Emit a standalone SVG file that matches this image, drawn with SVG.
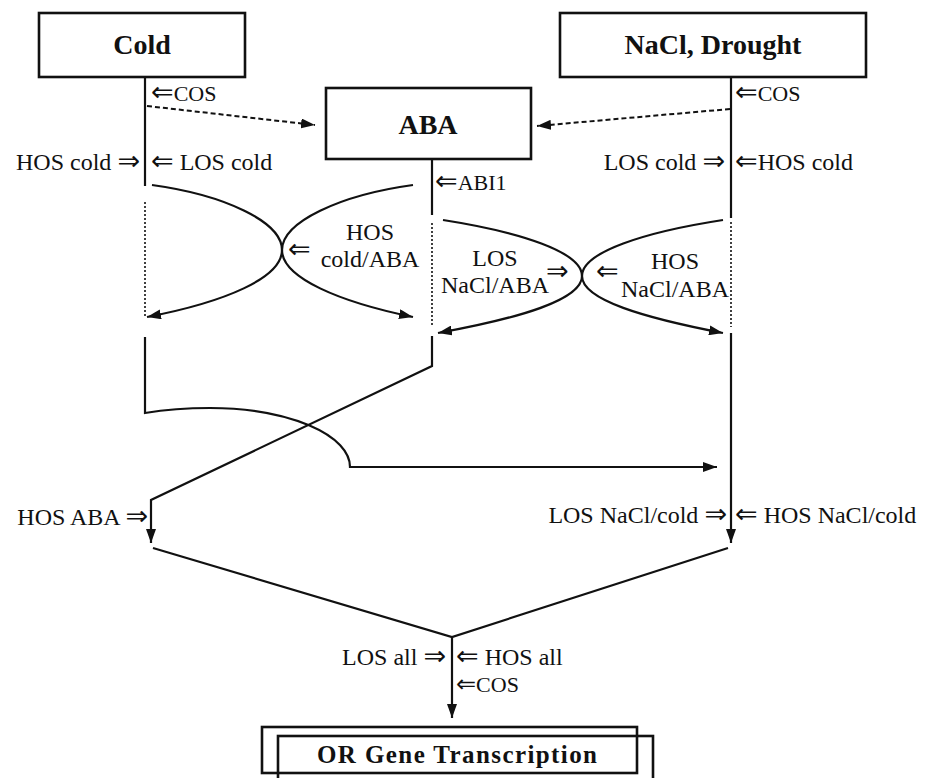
<svg xmlns="http://www.w3.org/2000/svg" width="933" height="778" viewBox="0 0 933 778">
<defs>
<style>
.box{fill:none;stroke:#111;stroke-width:2.6}
.ln{fill:none;stroke:#111;stroke-width:2.2}
.dot{fill:none;stroke:#111;stroke-width:1.6;stroke-dasharray:2 2}
.dash{fill:none;stroke:#111;stroke-width:2;stroke-dasharray:5 3}
.t{font-family:"Liberation Serif","DejaVu Serif",serif;font-size:24px;fill:#111}
.s{font-size:22px}
.b{font-weight:bold;font-size:28px}
.m{text-anchor:middle}
.e{text-anchor:end}
.a{font-family:"DejaVu Sans","DejaVu Serif",sans-serif;font-size:27px;font-weight:normal}
.a2{font-family:"DejaVu Sans","DejaVu Serif",sans-serif;font-size:24px;font-weight:normal}
</style>
<marker id="ah" viewBox="0 0 14 10" refX="14" refY="5" markerWidth="14" markerHeight="10" markerUnits="userSpaceOnUse" orient="auto">
<path d="M0,0 L14,5 L0,10 z" fill="#111"/>
</marker>
</defs>
<rect width="933" height="778" fill="#fff"/>

<g id="cold"><rect class="box" x="39" y="13" width="206" height="64"/><text class="t b m" x="142" y="54">Cold</text></g>
<g id="nacl"><rect class="box" x="560" y="13" width="306" height="64"/><text class="t b m" x="713" y="54">NaCl, Drought</text></g>
<g id="aba"><rect class="box" x="326" y="88" width="205" height="71"/><text class="t b m" x="428" y="134">ABA</text></g>
<g id="or-gene"><rect class="box" x="262" y="727" width="375" height="46"/><rect class="box" x="278" y="736" width="375" height="60"/><text class="t b m" x="457" y="763" style="font-size:25px" textLength="280">OR Gene Transcription</text></g>

<g id="connectors">
<path class="ln" d="M145,77 V186"/>
<path class="dot" d="M145,202 V317"/>
<path class="ln" d="M145,337 V413 Q175,408 210,408 A140,59 0 0 1 350,467 H717" marker-end="url(#ah)"/>
<path class="dash" d="M147,106 L315,125" marker-end="url(#ah)"/>
<path class="dash" d="M730,109 L537,126" marker-end="url(#ah)"/>
<path class="ln" d="M432,159 V215"/>
<path class="dot" d="M432,223 V327"/>
<path class="ln" d="M432,336 V366 L151,500 V543" marker-end="url(#ah)"/>
<path class="ln" d="M731,77 V218"/>
<path class="dot" d="M731,222 V327"/>
<path class="ln" d="M731,333 V543" marker-end="url(#ah)"/>
<path class="ln" d="M152,185 C225,195 282,222 282,250 C282,278 225,302 147,317" marker-end="url(#ah)"/>
<path class="ln" d="M413,185 C340,195 282,222 282,250 C282,278 340,302 413,317" marker-end="url(#ah)"/>
<path class="ln" d="M443,220 C520,232 582,252 582,276 C582,300 520,318 438,333" marker-end="url(#ah)"/>
<path class="ln" d="M723,220 C645,232 582,252 582,276 C582,300 645,318 723,333" marker-end="url(#ah)"/>
<path class="ln" d="M153,548 L452,637 L728,548"/>
<path class="ln" d="M452,637 V718" marker-end="url(#ah)"/>
</g>

<g id="labels">
<text class="t s" x="151" y="101"><tspan class="a">⇐</tspan>COS</text>
<text class="t e" x="140" y="170">HOS cold <tspan class="a">⇒</tspan></text>
<text class="t" x="151" y="170"><tspan class="a">⇐</tspan> LOS cold</text>
<text class="t s" x="735" y="101"><tspan class="a">⇐</tspan>COS</text>
<text class="t e" x="725" y="170">LOS cold <tspan class="a">⇒</tspan></text>
<text class="t" x="735" y="170"><tspan class="a">⇐</tspan>HOS cold</text>
<text class="t s" x="435" y="190"><tspan class="a">⇐</tspan>ABI1</text>
<text class="t a" x="288" y="258">⇐</text>
<text class="t m" x="370" y="240">HOS</text>
<text class="t m" x="370" y="267">cold/ABA</text>
<text class="t m" x="495" y="266">LOS</text>
<text class="t m" x="495" y="293">NaCl/ABA</text>
<text class="t a" x="546" y="280">⇒</text>
<text class="t a" x="596" y="280">⇐</text>
<text class="t m" x="675" y="269">HOS</text>
<text class="t m" x="675" y="297">NaCl/ABA</text>
<text class="t e" x="148" y="525">HOS ABA <tspan class="a">⇒</tspan></text>
<text class="t e" x="727" y="523">LOS NaCl/cold <tspan class="a">⇒</tspan></text>
<text class="t" x="735" y="523"><tspan class="a">⇐</tspan> HOS NaCl/cold</text>
<text class="t e" x="446" y="665">LOS all <tspan class="a">⇒</tspan></text>
<text class="t" x="456" y="665"><tspan class="a">⇐</tspan> HOS all</text>
<text class="t s" x="456" y="692"><tspan class="a2">⇐</tspan>COS</text>
</g>
</svg>
